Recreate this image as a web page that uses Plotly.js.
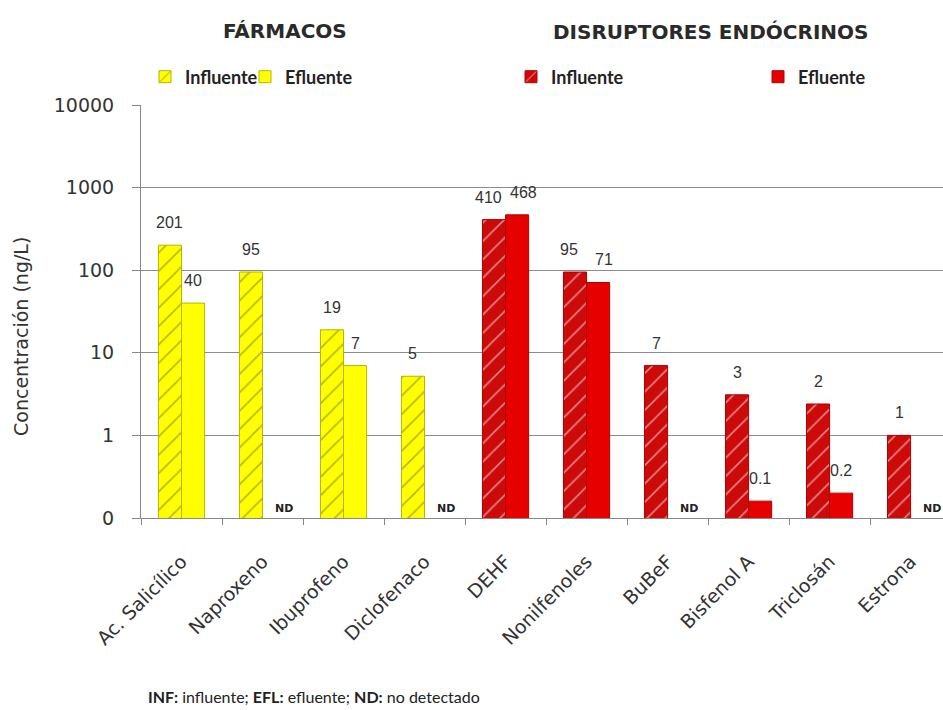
<!DOCTYPE html>
<html>
<head>
<meta charset="utf-8">
<script src="https://cdn.plot.ly/plotly-3.0.1.min.js"></script>
<style>html,body{margin:0;padding:0;background:#fff;}#chart{width:943px;height:710px;}</style>
</head>
<body>
<div id="chart"></div>
<script>
// ---- data ----
const categories = ["Ac. Salicílico","Naproxeno","Ibuprofeno","Diclofenaco","DEHF","Nonilfenoles","BuBeF","Bisfenol A","Triclosán","Estrona"];
const groups     = ["F","F","F","F","D","D","D","D","D","D"];
const infValues  = [201, 95, 19, 5.2, 410, 95, 7, 3.1, 2.4, 1];
const infLabels  = ["201","95","19","5","410","95","7","3","2","1"];
const eflValues  = [40, null, 7, null, 468, 71, null, 0.16, 0.2, null];
const eflLabels  = ["40","ND","7","ND","468","71","ND","0.1","0.2","ND"];
const yTickVals  = [0.1, 1, 10, 100, 1000, 10000];
const yTickText  = ["0", "1", "10", "100", "1000", "10000"];
const groupTitles = {F: "FÁRMACOS", D: "DISRUPTORES ENDÓCRINOS"};
const yTitle = "Concentración (ng/L)";
const footnote = "<b>INF:</b> influente; <b>EFL:</b> efluente; <b>ND:</b> no detectado";

// ---- style ----
const W = 943, H = 710;
const M = {l: 141, r: 0, t: 105, b: 192};
const PW = W - M.l - M.r, PH = H - M.t - M.b;
const XRANGE = [-0.5, 9.4];
const BARGAP = 0.43;
const catPx = PW / (XRANGE[1] - XRANGE[0]);
const barPx = catPx * (1 - BARGAP) / 2;

const FONT = "DejaVu Sans";
const LABFONT = "Liberation Sans";
const LFONT = "Lato";
const yellow = "#FFFF00", yellowLine = "#B5B500";
const red = "#E60000", redDark = "#CC0A0A";

const px2paperX = p => (p - M.l) / PW;
const px2paperY = p => (M.t + PH - p) / PH;

function pick(arr, g){ return arr.filter((_, i) => groups[i] === g); }

function barTrace(g, kind){
  const isInf = kind === "inf";
  const vals = isInf ? infValues : eflValues;
  const isF = g === "F";
  const marker = {
    color: isF ? yellow : (isInf ? redDark : red),
    line: {color: isF ? yellowLine : "#B00000", width: 1}
  };
  if (isInf) {
    marker.pattern = {shape: "/", fgcolor: isF ? "#6b6b2a" : "#ffffff", bgcolor: isF ? yellow : redDark,
                      size: 13, solidity: 0.12, fillmode: "overlay"};
  }
  return {
    type: "bar", x: pick(categories, g), y: pick(vals, g),
    offsetgroup: kind, name: isInf ? "Influente" : "Efluente",
    legend: {F: {inf: "legend", efl: "legend2"}, D: {inf: "legend3", efl: "legend4"}}[g][kind],
    marker: marker, hoverinfo: "x+y"
  };
}

const data = [barTrace("F","inf"), barTrace("F","efl"), barTrace("D","inf"), barTrace("D","efl")];

// ---- value labels ----
const annotations = [];
const labFont = {family: LABFONT, size: 16, color: "#333"};
categories.forEach((c, i) => {
  const vi = infValues[i], ve = eflValues[i];
  const close = (ve != null) && Math.abs(Math.log10(vi / ve)) < 0.3;
  const spread = close ? 6 : 0;
  annotations.push({x: c, y: Math.log10(vi), xref: "x", yref: "y", text: infLabels[i],
    showarrow: false, xshift: -barPx / 2 - spread, yanchor: "bottom", yshift: 12, font: labFont});
  if (ve != null) {
    annotations.push({x: c, y: Math.log10(ve), xref: "x", yref: "y", text: eflLabels[i],
      showarrow: false, xshift: barPx / 2 + spread, yanchor: "bottom", yshift: 12, font: labFont});
  } else {
    annotations.push({x: c, y: Math.log10(yTickVals[0]), xref: "x", yref: "y", text: "<b>" + eflLabels[i] + "</b>",
      showarrow: false, xshift: barPx / 2 + 10, yanchor: "bottom", yshift: 1,
      font: {family: FONT, size: 11, color: "#222"}});
  }
});
// group headers
annotations.push({xref: "paper", yref: "paper", x: px2paperX(285), y: px2paperY(31), text: groupTitles.F,
  showarrow: false, xanchor: "center", yanchor: "middle", font: {family: FONT, size: 20, color: "#2a2a2a", weight: "bold"}});
annotations.push({xref: "paper", yref: "paper", x: px2paperX(711), y: px2paperY(32), text: groupTitles.D,
  showarrow: false, xanchor: "center", yanchor: "middle", font: {family: FONT, size: 20, color: "#2a2a2a", weight: "bold"}});
// y axis title
annotations.push({xref: "paper", yref: "paper", x: px2paperX(21), y: px2paperY(337), text: yTitle, textangle: -90,
  showarrow: false, xanchor: "center", yanchor: "middle", font: {family: FONT, size: 19, color: "#333"}});
// footnote
annotations.push({xref: "paper", yref: "paper", x: px2paperX(146), y: px2paperY(696), xanchor: "left", yanchor: "middle",
  showarrow: false, align: "left", text: footnote,
  font: {family: LFONT, size: 16, color: "#222"}});

function legendAt(leftPx){
  return {
    orientation: "h", x: px2paperX(leftPx), y: px2paperY(77), xanchor: "left", yanchor: "middle",
    itemwidth: 30, font: {family: LFONT, size: 18, color: "#222", weight: "bold"},
    bgcolor: "rgba(0,0,0,0)", borderwidth: 0
  };
}

const layout = {
  width: W, height: H, margin: M,
  paper_bgcolor: "#fff", plot_bgcolor: "#fff",
  barmode: "group", bargap: BARGAP, bargroupgap: 0,
  xaxis: {
    type: "category", categoryorder: "array", categoryarray: categories,
    range: XRANGE, tickangle: -45, tickson: "boundaries",
    ticks: "outside", ticklen: 6, tickcolor: "#888", ticklabelstandoff: 24,
    showline: true, linecolor: "#888", linewidth: 1, showgrid: false,
    tickfont: {family: FONT, size: 19, color: "#333"}
  },
  yaxis: {
    type: "log", range: [-1, 4], tickvals: yTickVals, ticktext: yTickText,
    ticks: "outside", ticklen: 8, tickcolor: "#888", ticklabelstandoff: 14,
    showline: true, linecolor: "#888", linewidth: 1,
    showgrid: true, gridcolor: "#8c8c8c", gridwidth: 1, zeroline: false,
    tickfont: {family: FONT, size: 19, color: "#333"}
  },
  legend: legendAt(145),
  legend2: legendAt(245),
  legend3: legendAt(511),
  legend4: legendAt(758),
  annotations: annotations,
  showlegend: true
};

Plotly.newPlot("chart", data, layout, {displayModeBar: false, staticPlot: true});
</script>
</body>
</html>
